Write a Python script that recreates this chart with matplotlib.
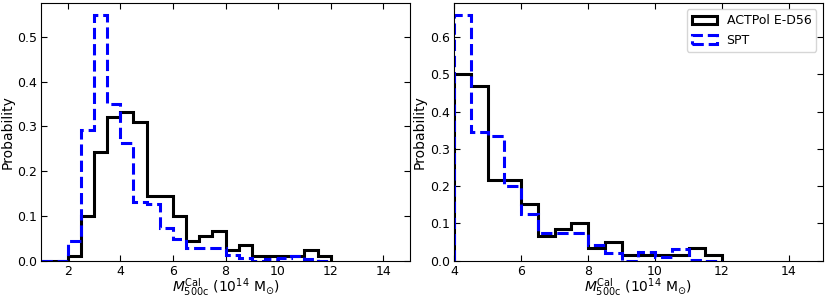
import numpy as np
import matplotlib
matplotlib.use("Agg")
import matplotlib.pyplot as plt

# Left panel: bins of 0.5 from 1 to 12
left_edges = np.arange(1.0, 12.01, 0.5)
left_act = [0.0, 0.0, 0.011, 0.100, 0.243, 0.321, 0.333, 0.309, 0.145, 0.145,
            0.100, 0.045, 0.055, 0.067, 0.023, 0.034, 0.011, 0.011, 0.011, 0.011,
            0.023, 0.011]
left_spt = [0.0, 0.0, 0.045, 0.292, 0.548, 0.350, 0.263, 0.130, 0.127, 0.074,
            0.048, 0.028, 0.028, 0.028, 0.012, 0.007, 0.0, 0.004, 0.007, 0.011,
            0.003, 0.0]

# Right panel: bins of 0.5 from 4 to 12
right_edges = np.arange(4.0, 12.01, 0.5)
right_act = [0.500, 0.468, 0.216, 0.216, 0.151, 0.067, 0.084, 0.100, 0.033, 0.050,
             0.016, 0.016, 0.016, 0.016, 0.033, 0.016]
right_spt = [0.658, 0.344, 0.334, 0.200, 0.125, 0.073, 0.073, 0.073, 0.041, 0.020,
             0.0, 0.022, 0.010, 0.032, 0.003, 0.0]

labels = ["ACTPol E-D56", "SPT"]
xlabel = r"$M_{\rm 500c}^{\rm Cal}$ ($10^{14}$ M$_{\odot}$)"

fig = plt.figure(figsize=(8.3, 3.0), dpi=100)
ax1 = fig.add_axes([0.0499, 0.131, 0.4436, 0.859])
ax2 = fig.add_axes([0.547, 0.131, 0.444, 0.859])

def draw(ax, edges, act, spt, xlim, yticks):
    ax.hist(edges[:-1], bins=edges, weights=act, histtype="step",
            color="black", lw=2.2, label=labels[0])
    ax.hist(edges[:-1], bins=edges, weights=spt, histtype="step",
            color="blue", lw=2.2, ls="--", label=labels[1])
    ymax = max(max(act), max(spt)) * 1.05
    ax.set_ylim(0, ymax)
    ax.set_yticks(yticks)
    ax.set_xticks([2, 4, 6, 8, 10, 12, 14])
    ax.set_xlim(*xlim)
    ax.tick_params(direction="in", top=True, right=True, labelsize=9, length=4, pad=3)
    ax.set_xlabel(xlabel, fontsize=10, labelpad=-1)
    ax.set_ylabel("Probability", fontsize=10, labelpad=2)

draw(ax1, left_edges, left_act, left_spt, (1, 15), [0.0, 0.1, 0.2, 0.3, 0.4, 0.5])
draw(ax2, right_edges, right_act, right_spt, (4, 15), [0.0, 0.1, 0.2, 0.3, 0.4, 0.5, 0.6])
ax2.legend(loc="upper right", fontsize=9)

fig.savefig("out.png", dpi=100)
